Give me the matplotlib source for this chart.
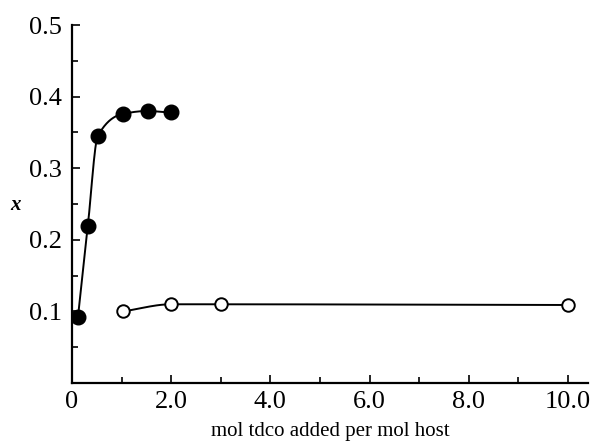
import numpy as np
import matplotlib.pyplot as plt
from matplotlib.ticker import FixedLocator

# filled circles
x_filled = [0.12, 0.32, 0.52, 1.03, 1.53, 2.0]
y_filled = [0.092, 0.22, 0.345, 0.376, 0.380, 0.378]
# open circles
x_open = [1.03, 2.0, 3.0, 10.0]
y_open = [0.100, 0.110, 0.110, 0.109]

xticks = [0, 2, 4, 6, 8, 10]
xticklabels = ['0', '2.0', '4.0', '6.0', '8.0', '10.0']
yticks = [0.1, 0.2, 0.3, 0.4, 0.5]
yticklabels = ['0.1', '0.2', '0.3', '0.4', '0.5']


def pchip(x, y, n=200):
    # monotone cubic curve through the points, only for drawing the line
    x = np.asarray(x, float)
    y = np.asarray(y, float)
    h = np.diff(x)
    d = np.diff(y) / h
    m = np.zeros_like(y)
    for k in range(1, len(x) - 1):
        if d[k - 1] * d[k] > 0:
            w1 = 2 * h[k] + h[k - 1]
            w2 = h[k] + 2 * h[k - 1]
            m[k] = (w1 + w2) / (w1 / d[k - 1] + w2 / d[k])
    m[0] = d[0]
    xs = np.linspace(x[0], x[-1], n)
    idx = np.clip(np.searchsorted(x, xs) - 1, 0, len(h) - 1)
    t = (xs - x[idx]) / h[idx]
    h00 = 2 * t**3 - 3 * t**2 + 1
    h10 = t**3 - 2 * t**2 + t
    h01 = -2 * t**3 + 3 * t**2
    h11 = t**3 - t**2
    ys = h00 * y[idx] + h10 * h[idx] * m[idx] + h01 * y[idx + 1] + h11 * h[idx] * m[idx + 1]
    return xs, ys


plt.rcParams['font.family'] = ['Liberation Serif', 'DejaVu Serif']

fig = plt.figure(figsize=(5.97, 4.43), dpi=100)
ax = fig.add_axes([0.1206, 0.1354, 0.864, 0.808])

xs, ys = pchip(x_filled, y_filled)
ax.plot(xs, ys, color='black', lw=1.4, zorder=2)
xs, ys = pchip(x_open, y_open)
ax.plot(xs, ys, color='black', lw=1.4, zorder=2)

ax.plot(x_filled, y_filled, 'o', color='black', ms=10.5, zorder=3)
ax.plot(x_open, y_open, 'o', mfc='white', mec='black', mew=1.4, ms=9, zorder=3)

ax.set_xlim(0, 10.4)
ax.set_ylim(0, 0.5)
ax.spines['top'].set_visible(False)
ax.spines['right'].set_visible(False)
for s in ['left', 'bottom']:
    ax.spines[s].set_linewidth(1.6)

ax.xaxis.set_major_locator(FixedLocator(xticks))
ax.set_xticklabels(xticklabels)
ax.xaxis.set_minor_locator(FixedLocator([1, 3, 5, 7, 9]))
ax.yaxis.set_major_locator(FixedLocator(yticks))
ax.set_yticklabels(yticklabels)
ax.yaxis.set_minor_locator(FixedLocator([0.05, 0.15, 0.25, 0.35, 0.45]))
ax.tick_params(which='both', direction='in', width=1.2, labelsize=19)
ax.tick_params(which='major', length=6)
ax.tick_params(which='minor', length=4)
ax.tick_params(axis='y', pad=7)
ax.tick_params(axis='x', pad=6)

ax.set_xlabel('mol tdco added per mol host', fontsize=15, labelpad=6)
fig.text(15 / 597, 1 - 205 / 443, 'x', fontsize=15, style='italic',
         weight='bold', ha='center', va='center')

fig.savefig('out.png', dpi=100)
